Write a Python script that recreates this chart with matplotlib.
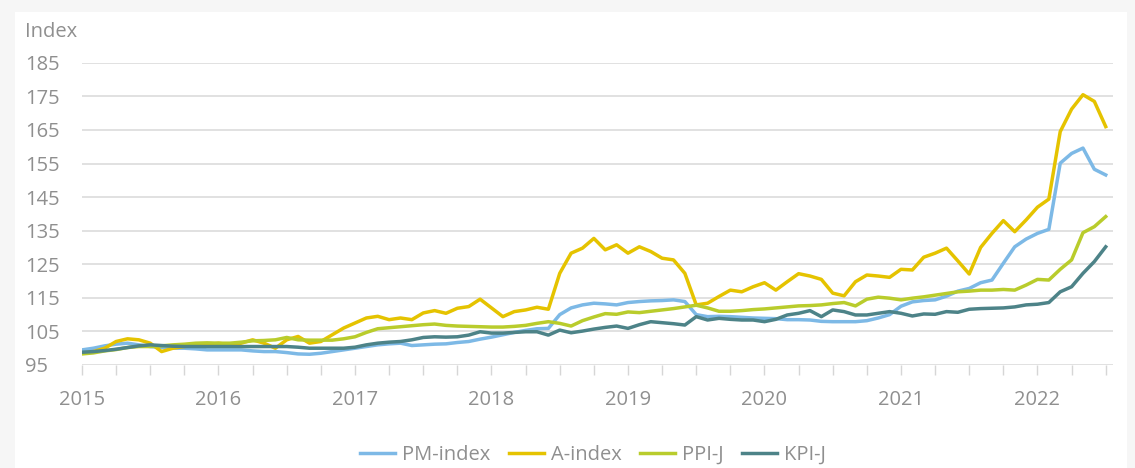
import matplotlib
matplotlib.use("Agg")
import matplotlib.pyplot as plt
from matplotlib.patches import Rectangle
import numpy as np

# Monthly data, Jan 2015 .. Jul 2022
pm_index = [99.5, 100, 100.7, 101.2, 101.5, 101, 100.5, 100.2, 100, 100, 99.8, 99.5,
            99.5, 99.5, 99.5, 99.2, 99, 99, 98.7, 98.3, 98.2, 98.5, 99, 99.5,
            100, 100.5, 101, 101.3, 101.5, 100.8, 101, 101.2, 101.3, 101.7, 102, 102.7,
            103.3, 104, 104.7, 105.3, 105.8, 105.9, 110, 112, 112.9, 113.4, 113.2, 112.9,
            113.6, 113.9, 114.1, 114.2, 114.4, 113.9, 110, 109.4, 109.5, 109.4, 109.2, 109,
            108.9, 108.8, 108.5, 108.5, 108.4, 108, 107.9, 107.9, 107.9, 108.2, 109, 110,
            112.5, 113.8, 114.2, 114.4, 115.5, 117, 117.8, 119.5, 120.3, 125.3, 130.2, 132.5,
            134.2, 135.4, 155.1, 158, 159.6, 153.3, 151.6]

a_index = [98.5, 99, 100, 102, 102.8, 102.5, 101.5, 99, 100, 100.5, 101, 101,
           101.5, 101, 101.5, 102.5, 101.5, 100, 102.5, 103.5, 101.5, 102, 104, 106,
           107.5, 109, 109.5, 108.5, 109, 108.5, 110.5, 111.2, 110.4, 111.9, 112.4, 114.6,
           112, 109.4, 110.9, 111.4, 112.2, 111.6, 122.3, 128.3, 129.8, 132.7, 129.3, 130.8,
           128.3, 130.2, 128.8, 126.8, 126.3, 122.3, 112.9, 113.4, 115.4, 117.3, 116.8, 118.3,
           119.5, 117.3, 119.8, 122.2, 121.5, 120.5, 116.4, 115.6, 119.8, 121.8, 121.5, 121.1,
           123.5, 123.3, 127.1, 128.3, 129.8, 126, 122.1, 130, 134.2, 138, 134.7, 138.2,
           142, 144.4, 164.5, 171.2, 175.5, 173.5, 166]

ppi_j = [98.3, 98.6, 99.2, 99.6, 100.2, 100.5, 100.5, 100.7, 101, 101.2, 101.5, 101.6,
         101.5, 101.5, 101.8, 102.2, 102.3, 102.5, 103.2, 102.5, 102.4, 102.4, 102.4, 102.8,
         103.4, 104.7, 105.8, 106.1, 106.4, 106.7, 107, 107.2, 106.8, 106.6, 106.5, 106.4,
         106.3, 106.3, 106.5, 106.8, 107.4, 107.9, 107.4, 106.6, 108.2, 109.3, 110.3, 110.1,
         110.8, 110.6, 111, 111.4, 111.8, 112.3, 112.8, 112, 111, 111, 111.2, 111.5,
         111.7, 112, 112.3, 112.6, 112.7, 112.9, 113.3, 113.6, 112.6, 114.6, 115.2, 114.9,
         114.4, 114.9, 115.3, 115.8, 116.3, 116.8, 117, 117.3, 117.3, 117.5, 117.3, 118.8,
         120.5, 120.3, 123.5, 126.3, 134.4, 136.2, 139.2]

kpi_j = [98.8, 99, 99.3, 99.7, 100.2, 100.7, 101, 100.8, 100.6, 100.5, 100.5, 100.5,
         100.5, 100.5, 100.5, 100.5, 100.5, 100.5, 100.5, 100.3, 100, 100, 100, 100,
         100.3, 101, 101.5, 101.8, 102, 102.5, 103.2, 103.4, 103.3, 103.4, 103.9, 104.9,
         104.5, 104.5, 104.7, 104.9, 104.9, 103.9, 105.4, 104.6, 105.1, 105.7, 106.2, 106.6,
         105.9, 107, 107.9, 107.6, 107.3, 106.9, 109.4, 108.4, 108.9, 108.6, 108.4, 108.4,
         107.9, 108.6, 109.9, 110.4, 111.2, 109.4, 111.4, 110.9, 109.9, 109.9, 110.4, 110.9,
         110.4, 109.6, 110.2, 110.1, 110.9, 110.7, 111.6, 111.8, 111.9, 112, 112.3, 112.9,
         113.1, 113.6, 116.8, 118.3, 122.3, 125.8, 130.2]

series_names = ["PM-index", "A-index", "PPI-J", "KPI-J"]
series_colors = ["#7db9e6", "#e5c300", "#b9cc2c", "#4d8388"]
year_labels = ["2015", "2016", "2017", "2018", "2019", "2020", "2021", "2022"]
y_ticks = [95, 105, 115, 125, 135, 145, 155, 165, 175, 185]

plt.rcParams['font.family'] = ['Open Sans', 'DejaVu Sans']
W, H = 1135, 468
TXT = "#8f8f8f"
fig = plt.figure(figsize=(W / 100, H / 100), dpi=100, facecolor="#f6f6f6")
fig.patches.append(Rectangle((15 / W, 0), (1127 - 15) / W, (H - 12) / H,
                             transform=fig.transFigure, facecolor="white",
                             edgecolor="none", zorder=-5))

ax = fig.add_axes([82 / W, 1 - 365 / H, (1113 - 82) / W, (365 - 62.8) / H])
ax.set_facecolor("none")
ax.set_zorder(2)

x = np.arange(len(pm_index))
for vals, name, col in zip([pm_index, a_index, ppi_j, kpi_j], series_names, series_colors):
    ax.plot(x, vals, color=col, lw=2.5, label=name, solid_joinstyle="round", zorder=3)

ax.set_xlim(0, 90.64)
ax.set_ylim(95, 185)
ax.set_yticks(y_ticks)
ax.set_yticklabels([str(v) for v in y_ticks])
ax.grid(axis="y", color="#dcdcdc", lw=1.2, zorder=0)
ax.set_axisbelow(True)
for s in ax.spines.values():
    s.set_visible(False)

ax.set_xticks([12 * i for i in range(len(year_labels))])
ax.set_xticklabels(year_labels)
ax.set_xticks(np.arange(0, 91, 3), minor=True)
ax.tick_params(axis="x", which="both", length=7, width=1, color="#d6d6d6",
               labelsize=14.5, labelcolor=TXT, pad=11)
ax.tick_params(axis="y", length=0, labelsize=14.5, labelcolor=TXT, pad=41)
for lbl in ax.get_yticklabels():
    lbl.set_horizontalalignment("left")

fig.text(25 / W, 1 - 32 / H, "Index", fontsize=14.5, color=TXT,
         ha="left", va="center")

leg = fig.legend(loc="center", bbox_to_anchor=(593 / W, 1 - 455 / H), ncol=4,
                 frameon=False, fontsize=14.5, handlelength=1.75, handletextpad=0.35,
                 columnspacing=0.9)
for t in leg.get_texts():
    t.set_color(TXT)
for l in leg.get_lines():
    l.set_linewidth(2.5)

fig.savefig("out.png", dpi=100, facecolor=fig.get_facecolor())
